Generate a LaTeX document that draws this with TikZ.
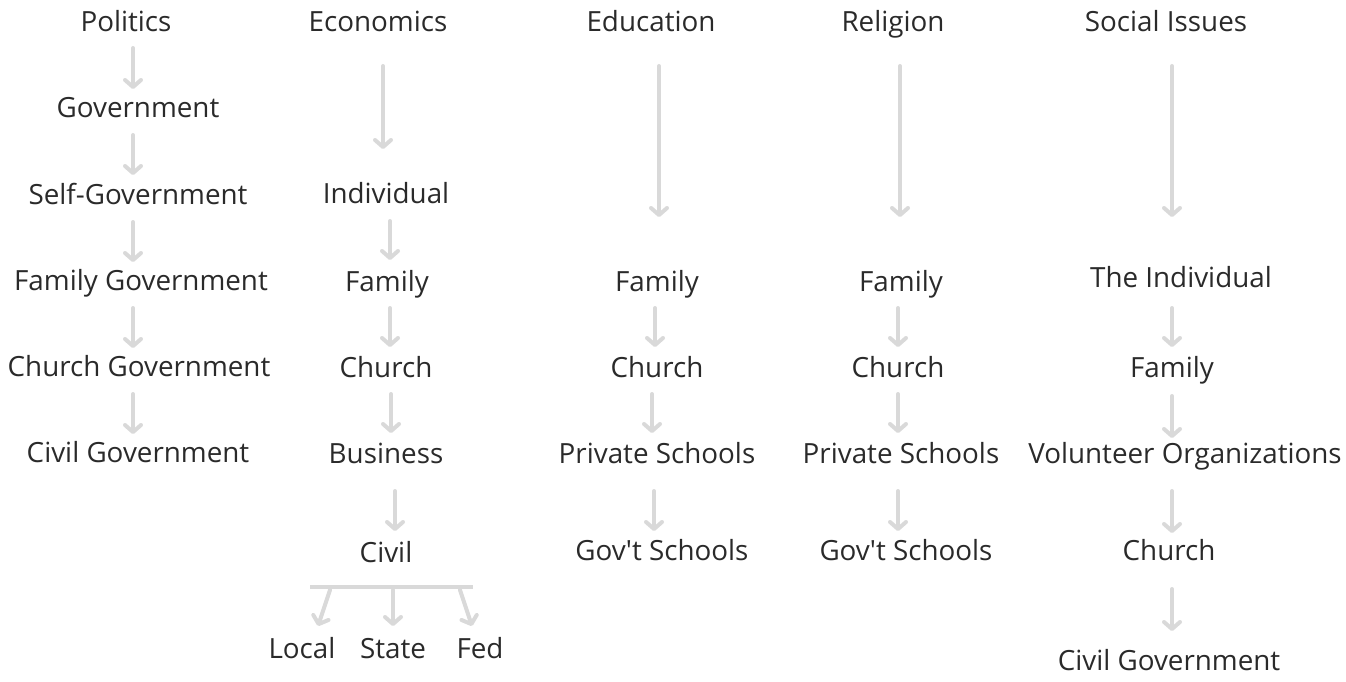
\documentclass[tikz,border=0pt]{standalone}
\usepackage{fontspec}
\setmainfont{Open Sans}
\usetikzlibrary{arrows.meta}
\definecolor{txt}{HTML}{2A2A2A}
\definecolor{arrc}{HTML}{D9D9D9}
\tikzset{
  lbl/.style={anchor=base, inner sep=0pt, text=txt, font=\fontsize{27.8}{32}\selectfont},
  arr/.style={draw=arrc, line width=4pt, line cap=round, -{Straight Barb[length=7pt,width=16pt,round]}},
  bar/.style={draw=arrc, line width=4pt}
}
\newcommand\arrw[4]{\draw[arr] (#1,#2) coordinate (#4s) -- (#1,#3) coordinate (#4e);}
\newcommand\sq{\XeTeXglyph\the\XeTeXcharglyph"0027\relax}
\begin{document}
\begin{tikzpicture}[x=1pt,y=-1pt]
\useasboundingbox (0,0) rectangle (1346,682);
% Column 1
\node[lbl] (pol) at (126,32) {Politics};
\node[lbl] (gov) at (138,118) {Government};
\node[lbl] (self) at (138,204) {Self-Government};
\node[lbl] (famg) at (141,290) {Family Government};
\node[lbl] (chg) at (139,376) {Church Government};
\node[lbl] (civg) at (138,462) {Civil Government};
\arrw{133}{48}{89}{a1}
\arrw{133}{135}{175}{a2}
\arrw{133}{222}{262}{a3}
\arrw{133}{308}{348}{a4}
\arrw{133}{394}{434}{a5}
% Column 2
\node[lbl] (eco) at (378,32) {Economics};
\node[lbl] (ind) at (386,203) {Individual};
\node[lbl] (fam2) at (387,291) {Family};
\node[lbl] (ch2) at (386,377) {Church};
\node[lbl] (bus) at (386,463) {Business};
\node[lbl] (civ2) at (386,562) {Civil};
\node[lbl] (loc) at (302,658) {Local};
\node[lbl] (sta) at (393,658) {State};
\node[lbl] (fed) at (480,658) {Fed};
\arrw{383}{66}{149}{b1}
\arrw{390}{221}{260}{b2}
\arrw{390}{308}{347}{b3}
\arrw{391}{394}{433}{b4}
\arrw{395}{491}{531}{b5}
\coordinate (barl) at (310,587);
\coordinate (barr) at (473,587);
\draw[bar] (barl) -- (barr);
\draw[arr] (330,590) coordinate (c1s) -- (318,626) coordinate (c1e);
\draw[arr] (393,590) coordinate (c2s) -- (393,626) coordinate (c2e);
\draw[arr] (460,590) coordinate (c3s) -- (472,626) coordinate (c3e);
% Column 3
\node[lbl] (edu) at (651,32) {Education};
\node[lbl] (fam3) at (657,291) {Family};
\node[lbl] (ch3) at (657,377) {Church};
\node[lbl] (pri3) at (657,463) {Private Schools};
\node[lbl] (gs3) at (662,560) {Gov\sq t Schools};
\arrw{659}{66}{217}{d1}
\arrw{655}{308}{347}{d2}
\arrw{652}{394}{433}{d3}
\arrw{654}{491}{531}{d4}
% Column 4
\node[lbl] (rel) at (893,32) {Religion};
\node[lbl] (fam4) at (901,291) {Family};
\node[lbl] (ch4) at (898,377) {Church};
\node[lbl] (pri4) at (901,463) {Private Schools};
\node[lbl] (gs4) at (906,560) {Gov\sq t Schools};
\arrw{900}{66}{217}{e1}
\arrw{898}{308}{347}{e2}
\arrw{898}{394}{433}{e3}
\arrw{898}{491}{531}{e4}
% Column 5
\node[lbl] (soc) at (1166,32) {Social Issues};
\node[lbl] (tind) at (1181,287) {The Individual};
\node[lbl] (fam5) at (1172,377) {Family};
\node[lbl] (vol) at (1185,463) {Volunteer Organizations};
\node[lbl] (ch5) at (1169,560) {Church};
\node[lbl] (civ5) at (1169,670) {Civil Government};
\arrw{1172}{66}{217}{f1}
\arrw{1172}{308}{347}{f2}
\arrw{1172}{396}{438}{f3}
\arrw{1172}{491}{533}{f4}
\arrw{1172}{589}{631}{f5}
\end{tikzpicture}
\end{document}
